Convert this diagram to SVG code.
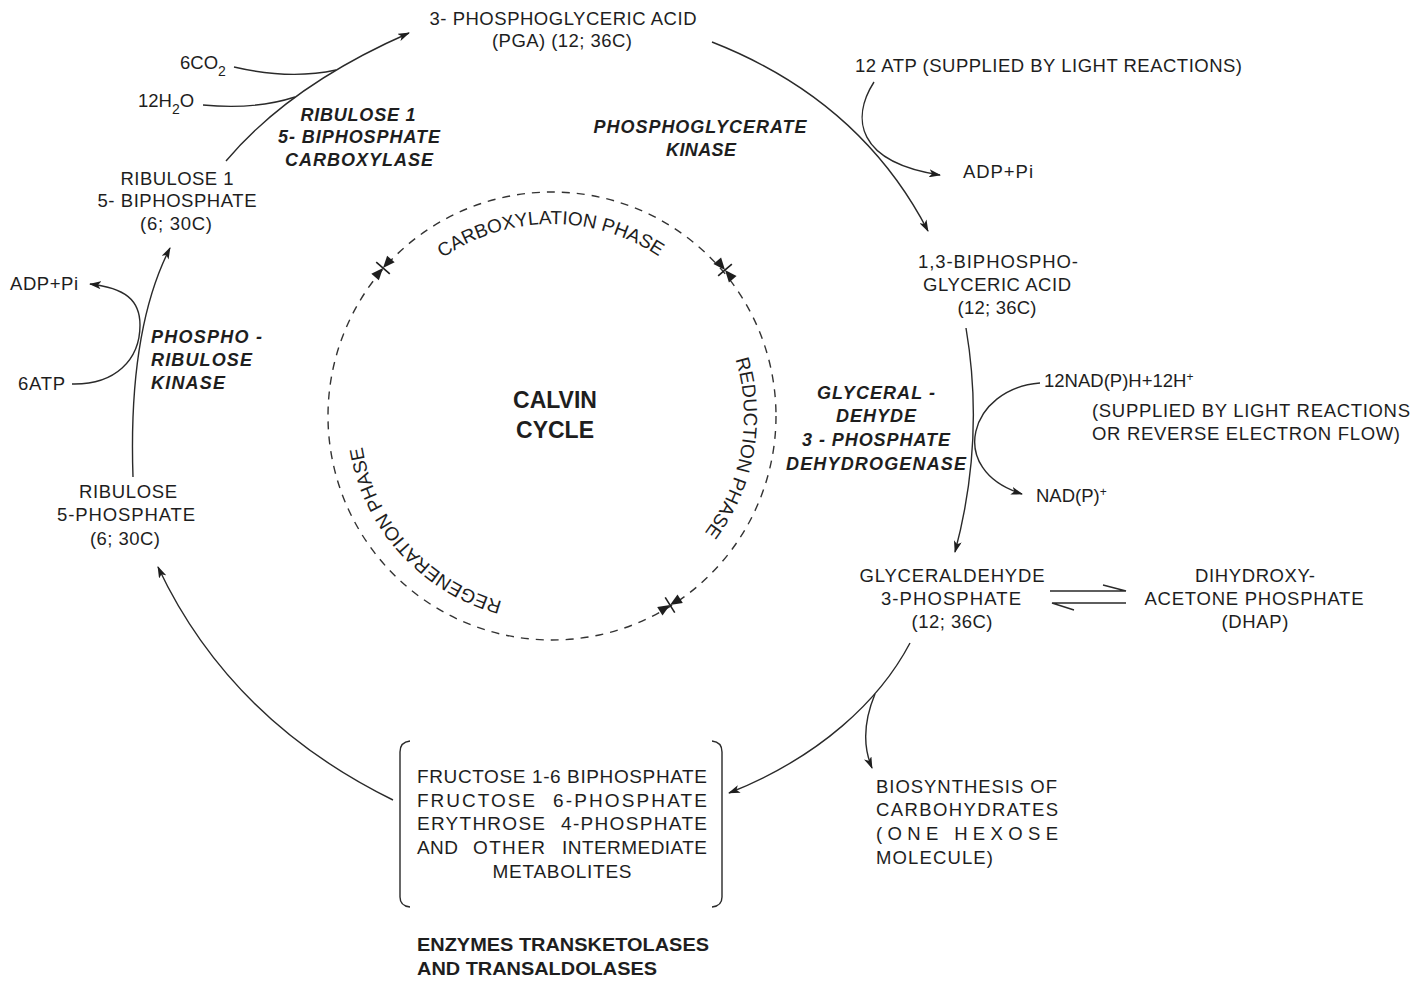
<svg xmlns="http://www.w3.org/2000/svg" xmlns:xlink="http://www.w3.org/1999/xlink" width="1421" height="983" viewBox="0 0 1421 983">
<style>
text{font-family:"Liberation Sans",Arial,sans-serif;font-size:18.5px;fill:#1e1e1e}
.c{text-anchor:middle}
.e{text-anchor:end}
.bi{font-weight:bold;font-style:italic;font-size:18px}
.b{font-weight:bold;font-size:19px}
.big{font-weight:bold;font-size:23px}
.bx{font-size:19px}
.ph{font-size:19px}
.ln{fill:none;stroke:#2a2a2a;stroke-width:1.4}
.ar{fill:none;stroke:#2a2a2a;stroke-width:1.4;marker-end:url(#ah)}
.dash{fill:none;stroke:#333;stroke-width:1.4;stroke-dasharray:8 7}
</style>
<defs>
<marker id="ah" viewBox="0 0 12 8" refX="11" refY="4" markerWidth="12" markerHeight="8" markerUnits="userSpaceOnUse" orient="auto">
<path d="M0,0 L12,4 L0,8 L3,4 Z" fill="#1e1e1e"/>
</marker>
<g id="mk">
<polygon points="-12,-5 -12,5 0,0" fill="#1e1e1e"/>
<polygon points="12,-5 12,5 0,0" fill="#1e1e1e"/>
<line x1="0" y1="-9" x2="0" y2="9" stroke="#1e1e1e" stroke-width="1.6"/>
</g>
<path id="ring" d="M648,582.3 A192,192 0 1 1 456,249.7 A192,192 0 1 1 648,582.3"/>
</defs>
<rect width="1421" height="983" fill="#ffffff"/>

<g id="connectors">
<path class="ar" d="M226,161 Q290,85 409,33"/>
<path class="ln" d="M234,67 Q290,80 336,70"/>
<path class="ln" d="M203,105 Q255,110 295,97"/>
<path class="ar" d="M712,42 Q860,100 928,231"/>
<path class="ar" d="M874,82 C851,118 856,162 940,175"/>
<path class="ar" d="M966,328 Q985,440 955,552"/>
<path class="ar" d="M1040,383 C970,388 945,470 1022,494"/>
<path class="ar" d="M910,643 C880,700 820,757 729,793"/>
<path class="ar" d="M875,694 Q858,735 872,768"/>
<path class="ar" d="M393,800 Q230,720 158,567"/>
<path class="ar" d="M133,477 Q128,330 170,248"/>
<path class="ar" d="M72,384 C115,385 140,360 140,325 C140,300 125,288 90,284"/>
<path class="ln" d="M1050,591 L1126,591 L1103,585"/>
<path class="ln" d="M1126,603 L1052,603 L1074,610"/>
</g>

<g id="calvin-cycle">
<circle class="dash" cx="552" cy="416" r="224"/>
<use xlink:href="#mk" transform="translate(383,268) rotate(-48.8)"/>
<use xlink:href="#mk" transform="translate(725,270) rotate(49.8)"/>
<use xlink:href="#mk" transform="translate(670,605) rotate(148)"/>
<text class="big c" x="555" y="408">CALVIN</text>
<text class="big c" x="555" y="438">CYCLE</text>
<text class="ph"><textPath xlink:href="#ring" startOffset="702" text-anchor="middle">CARBOXYLATION PHASE</textPath></text>
<text class="ph"><textPath xlink:href="#ring" startOffset="1039" text-anchor="middle">REDUCTION PHASE</textPath></text>
<text class="ph"><textPath xlink:href="#ring" startOffset="261" text-anchor="middle">REGENERATION PHASE</textPath></text>
</g>

<g id="pga">
<text class="c" x="563" y="25" textLength="267">3- PHOSPHOGLYCERIC ACID</text>
<text class="c" x="562" y="47" textLength="140">(PGA) (12; 36C)</text>
</g>

<g id="co2-h2o">
<text x="180" y="69">6CO<tspan dy="7" font-size="14">2</tspan></text>
<text x="138" y="107">12H<tspan dy="7" font-size="14">2</tspan><tspan dy="-7">O</tspan></text>
</g>

<g id="rubisco">
<text class="bi c" x="358" y="121" textLength="115">RIBULOSE 1</text>
<text class="bi c" x="359" y="143" textLength="162">5- BIPHOSPHATE</text>
<text class="bi c" x="359" y="166" textLength="148">CARBOXYLASE</text>
</g>

<g id="pgk">
<text class="bi c" x="700" y="133" textLength="213">PHOSPHOGLYCERATE</text>
<text class="bi c" x="701" y="156" textLength="70">KINASE</text>
</g>

<g id="atp-in">
<text x="855" y="72" textLength="387">12 ATP (SUPPLIED BY LIGHT REACTIONS)</text>
<text x="963" y="178" textLength="70">ADP+Pi</text>
</g>

<g id="rubp">
<text class="c" x="177" y="185" textLength="113">RIBULOSE 1</text>
<text class="c" x="177" y="207" textLength="159">5- BIPHOSPHATE</text>
<text class="c" x="176" y="230" textLength="72">(6; 30C)</text>
</g>

<g id="bpga">
<text class="c" x="998" y="268" textLength="160">1,3-BIPHOSPHO-</text>
<text class="c" x="997" y="291" textLength="148">GLYCERIC ACID</text>
<text class="c" x="997" y="314" textLength="79">(12; 36C)</text>
</g>

<g id="atp-left">
<text x="10" y="290" textLength="68">ADP+Pi</text>
<text x="18" y="390" textLength="47">6ATP</text>
</g>

<g id="prk">
<text class="bi" x="151" y="343" textLength="111">PHOSPHO -</text>
<text class="bi" x="151" y="366" textLength="101">RIBULOSE</text>
<text class="bi" x="151" y="389" textLength="74">KINASE</text>
</g>

<g id="nadph">
<text x="1044" y="387">12NAD(P)H+12H<tspan dy="-6" font-size="12">+</tspan></text>
<text x="1092" y="417" textLength="318">(SUPPLIED BY LIGHT REACTIONS</text>
<text x="1092" y="440" textLength="308">OR REVERSE ELECTRON FLOW)</text>
<text x="1036" y="502">NAD(P)<tspan dy="-6" font-size="12">+</tspan></text>
</g>

<g id="gapdh">
<text class="bi c" x="876" y="399" textLength="118">GLYCERAL -</text>
<text class="bi c" x="876" y="422" textLength="80">DEHYDE</text>
<text class="bi c" x="876" y="446" textLength="148">3 - PHOSPHATE</text>
<text class="bi c" x="876" y="470" textLength="180">DEHYDROGENASE</text>
</g>

<g id="ru5p">
<text class="c" x="128" y="498" textLength="98">RIBULOSE</text>
<text class="c" x="126" y="521" textLength="138">5-PHOSPHATE</text>
<text class="c" x="125" y="545" textLength="70">(6; 30C)</text>
</g>

<g id="g3p">
<text class="c" x="952" y="582" textLength="185">GLYCERALDEHYDE</text>
<text class="c" x="951" y="605" textLength="140">3-PHOSPHATE</text>
<text class="c" x="952" y="628" textLength="81">(12; 36C)</text>
</g>

<g id="dhap">
<text class="c" x="1255" y="582" textLength="120">DIHYDROXY-</text>
<text class="c" x="1254" y="605" textLength="219">ACETONE PHOSPHATE</text>
<text class="c" x="1255" y="628" textLength="67">(DHAP)</text>
</g>

<g id="intermediates">
<path class="ln" d="M410,741 Q400,742 400,752 L400,897 Q400,906 410,907"/>
<path class="ln" d="M712,741 Q722,742 722,752 L722,897 Q722,906 712,907"/>
<text class="bx" x="417" y="783" textLength="290">FRUCTOSE 1-6 BIPHOSPHATE</text>
<text class="bx" x="417" y="807" textLength="118">FRUCTOSE</text>
<text class="bx e" x="707" y="807" textLength="154">6-PHOSPHATE</text>
<text class="bx" x="417" y="830" textLength="128">ERYTHROSE</text>
<text class="bx e" x="707" y="830" textLength="146">4-PHOSPHATE</text>
<text class="bx" x="417" y="854" textLength="41">AND</text>
<text class="bx" x="473" y="854" textLength="72">OTHER</text>
<text class="bx e" x="707" y="854" textLength="145">INTERMEDIATE</text>
<text class="bx c" x="562" y="878" textLength="139">METABOLITES</text>
</g>

<g id="biosynthesis">
<text x="876" y="793" textLength="181">BIOSYNTHESIS OF</text>
<text x="876" y="816" textLength="182">CARBOHYDRATES</text>
<text x="876" y="840" textLength="182">(ONE HEXOSE</text>
<text x="876" y="864" textLength="117">MOLECULE)</text>
</g>

<g id="enzymes">
<text class="b" x="417" y="951" textLength="292" lengthAdjust="spacingAndGlyphs">ENZYMES TRANSKETOLASES</text>
<text class="b" x="417" y="975" textLength="240" lengthAdjust="spacingAndGlyphs">AND TRANSALDOLASES</text>
</g>
</svg>
